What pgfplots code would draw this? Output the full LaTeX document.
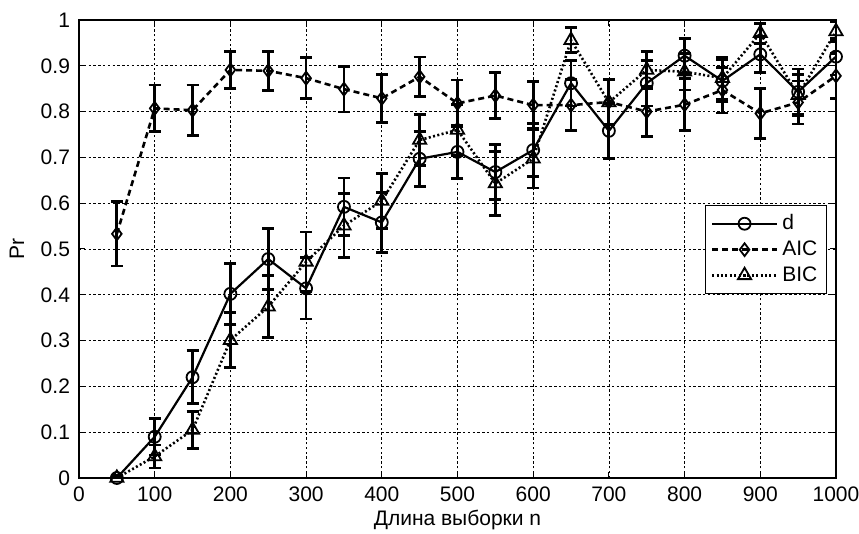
\documentclass[border=0pt]{standalone}
\usepackage{fontspec}
\setmainfont{Liberation Sans}
\usepackage{pgfplots}
\pgfplotsset{compat=1.18}

\begin{document}
\begin{tikzpicture}
  % picture frame, 1 px = 0.5pt, axis box lower-left at origin
  \useasboundingbox (-39.5pt,-28pt) rectangle (390pt,239pt);
  \begin{axis}[
      scale only axis,
      width=378.5pt, height=229pt,
      xmin=0, xmax=1000, ymin=0, ymax=1,
      xtick={0,100,...,1000},
      ytick={0,0.1,...,1},
      yticklabels={0,0.1,0.2,0.3,0.4,0.5,0.6,0.7,0.8,0.9,1},
      /pgf/number format/set thousands separator={},
      tick align=inside,
      major tick length=3pt,
      grid=major,
      grid style={black, line width=0.35pt, dash pattern=on 1.2pt off 1.2pt},
      axis line style={black, line width=0.6pt},
      tick style={black, line width=0.5pt},
      /pgf/number format/assume math mode=true,
      ticklabel style={font=\fontsize{10.5}{12}\selectfont},
      label style={font=\fontsize{10.5}{12}\selectfont},
      xticklabel style={yshift=-1pt},
      yticklabel style={xshift=-1pt},
      xlabel={Длина выборки n},
      ylabel={Pr},
      xlabel style={at={(axis description cs:0.5,-0.092)}, anchor=center},
      ylabel style={at={(axis description cs:-0.082,0.5)}, anchor=center},
      legend style={at={(0.988,0.596)}, anchor=north east,
        draw=black, line width=0.6pt,
        font=\fontsize{10.5}{12}\selectfont,
        row sep=0pt, inner sep=2.5pt},
      legend cell align=left,
      legend image code/.code={
        \draw[mark repeat=2,mark phase=2] plot coordinates {(0cm,0cm) (0.57cm,0cm) (1.14cm,0cm)};
      },
      error bars/error bar style={line width=1.4pt, solid, black},
      error bars/error mark options={line width=1.4pt, mark size=3pt, solid, black, rotate=90},
    ]

    % d
    \addplot[black, line width=1.1pt, mark=o, mark size=3pt,
      mark options={solid, line width=0.9pt},
      error bars/.cd, y dir=both, y explicit] coordinates {
      (50,0.000) +- (0,0.005)
      (100,0.090) +- (0,0.040)
      (150,0.220) +- (0,0.058)
      (200,0.402) +- (0,0.067)
      (250,0.478) +- (0,0.067)
      (300,0.414) +- (0,0.067)
      (350,0.592) +- (0,0.063)
      (400,0.558) +- (0,0.066)
      (450,0.697) +- (0,0.060)
      (500,0.712) +- (0,0.058)
      (550,0.668) +- (0,0.060)
      (600,0.716) +- (0,0.058)
      (650,0.862) +- (0,0.050)
      (700,0.758) +- (0,0.060)
      (750,0.862) +- (0,0.050)
      (800,0.922) +- (0,0.038)
      (850,0.867) +- (0,0.046)
      (900,0.925) +- (0,0.040)
      (950,0.843) +- (0,0.050)
      (1000,0.920) +- (0,0.040)
    };

    % AIC
    \addplot[black, line width=1.3pt, dash pattern=on 3pt off 2pt, mark=diamond, mark size=3.2pt,
      mark options={solid, line width=0.9pt},
      error bars/.cd, y dir=both, y explicit] coordinates {
      (50,0.533) +- (0,0.070)
      (100,0.807) +- (0,0.051)
      (150,0.803) +- (0,0.055)
      (200,0.891) +- (0,0.040)
      (250,0.889) +- (0,0.043)
      (300,0.873) +- (0,0.045)
      (350,0.849) +- (0,0.050)
      (400,0.829) +- (0,0.052)
      (450,0.876) +- (0,0.043)
      (500,0.818) +- (0,0.051)
      (550,0.835) +- (0,0.050)
      (600,0.814) +- (0,0.051)
      (650,0.814) +- (0,0.056)
      (700,0.821) +- (0,0.050)
      (750,0.800) +- (0,0.055)
      (800,0.815) +- (0,0.057)
      (850,0.847) +- (0,0.050)
      (900,0.796) +- (0,0.054)
      (950,0.820) +- (0,0.047)
      (1000,0.878) +- (0,0.049)
    };

    % BIC
    \addplot[black, line width=1.3pt, dash pattern=on 1pt off 1.2pt, mark=triangle, mark size=3.8pt,
      mark options={solid, line width=0.9pt},
      error bars/.cd, y dir=both, y explicit] coordinates {
      (50,0.000) +- (0,0.005)
      (100,0.047) +- (0,0.025)
      (150,0.105) +- (0,0.040)
      (200,0.301) +- (0,0.060)
      (250,0.374) +- (0,0.068)
      (300,0.472) +- (0,0.065)
      (350,0.551) +- (0,0.070)
      (400,0.605) +- (0,0.060)
      (450,0.738) +- (0,0.056)
      (500,0.760) +- (0,0.055)
      (550,0.643) +- (0,0.070)
      (600,0.697) +- (0,0.064)
      (650,0.956) +- (0,0.027)
      (700,0.820) +- (0,0.049)
      (750,0.891) +- (0,0.040)
      (800,0.887) +- (0,0.040)
      (850,0.873) +- (0,0.046)
      (900,0.971) +- (0,0.022)
      (950,0.836) +- (0,0.045)
      (1000,0.975) +- (0,0.022)
    };

    \legend{d, AIC, BIC}
  \end{axis}
\end{tikzpicture}
\end{document}
